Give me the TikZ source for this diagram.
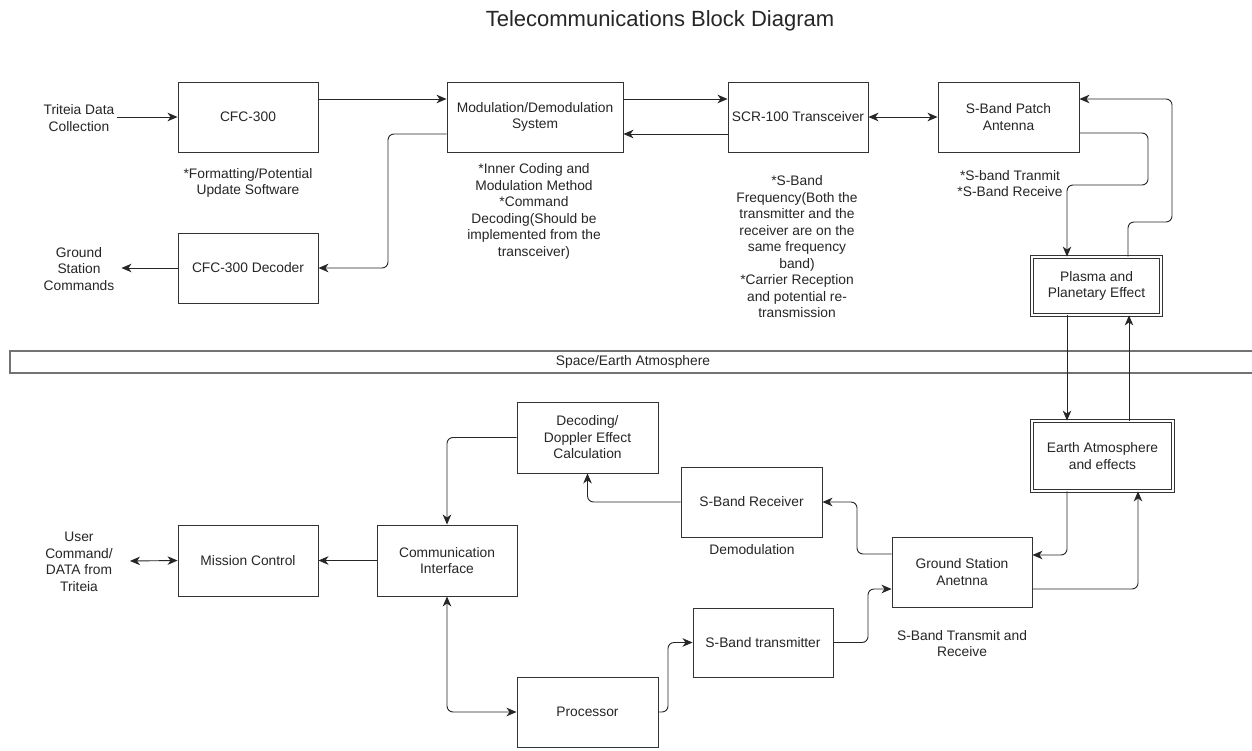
\documentclass[tikz,border=0pt]{standalone}
\usepackage{fontspec}
\setmainfont{Liberation Sans}
\usetikzlibrary{arrows.meta,calc}
\begin{document}
\begin{tikzpicture}[x=1pt,y=-1pt,
  every node/.style={font=\fontsize{13.8}{16.5}\selectfont, align=center, inner sep=2pt, text=black!85},
  blk/.style={draw=black!80, line width=0.9pt, inner sep=0pt},
  dblk/.style={draw=black!80, line width=0.8pt, double=white, double distance=2pt, inner sep=0pt},
  tip/.tip={Stealth[length=10pt,width=8.5pt,inset=3pt]},
  arr/.style={-tip, line width=0.9pt, draw=black!85, rounded corners=6pt},
  darr/.style={tip-tip, line width=0.9pt, draw=black!85, rounded corners=6pt}
]
\fill[white] (0,0) rectangle (1252,751);
\useasboundingbox (0,0) rectangle (1252,751);

% title
\node[font=\fontsize{22}{26}\selectfont, anchor=base] (title) at (660,27) {Telecommunications Block Diagram};

% top row blocks
\node[blk, minimum width=140pt, minimum height=70pt] (cfc) at (248,117) {CFC-300};
\node[blk, minimum width=176pt, minimum height=70pt] (mod) at (535,117) {Modulation/Demodulation\\System};
\node[blk, minimum width=140pt, minimum height=70pt] (scr) at (798,117) {SCR-100 Transceiver};
\node[blk, minimum width=141pt, minimum height=70pt] (patch) at (1008.5,117) {S-Band Patch\\Antenna};
\node[blk, minimum width=140pt, minimum height=70pt] (dec) at (248,268) {CFC-300 Decoder};
\node[dblk, minimum width=129pt, minimum height=58pt] (plasma) at (1096.5,286) {Plasma and\\Planetary Effect};

% top texts
\node (tdc) at (79,118) {Triteia Data\\Collection};
\node (gsc) at (79,269) {Ground\\Station\\Commands};
\node (fmt) at (248,183) {*Formatting/Potential\\Update Software};
\node (modnote) at (534,211.5) {*Inner Coding and\\Modulation Method\\*Command\\Decoding(Should be\\implemented from the\\transceiver)};
\node (scrnote) at (797,247) {*S-Band\\Frequency(Both the\\transmitter and the\\receiver are on the\\same frequency\\band)\\*Carrier Reception\\and potential re-\\transmission};
\node (patchnote) at (1010,183.5) {*S-band Tranmit\\*S-Band Receive};

% band
\node[draw=black!55, line width=1.3pt, minimum width=1246pt, minimum height=22pt, inner sep=0pt] (band) at (633,362) {Space/Earth Atmosphere};

% bottom blocks
\node[dblk, minimum width=141pt, minimum height=70pt] (earth) at (1102.5,456) {Earth Atmosphere\\and effects};
\node[blk, minimum width=141pt, minimum height=71pt] (decoding) at (587.5,437.5) {Decoding/\\Doppler Effect\\Calculation};
\node[blk, minimum width=141pt, minimum height=70pt] (rx) at (751.5,502) {S-Band Receiver};
\node[blk, minimum width=140pt, minimum height=70pt] (gs) at (962,572) {Ground Station\\Anetnna};
\node[blk, minimum width=140pt, minimum height=71pt] (comm) at (447,560.5) {Communication\\Interface};
\node[blk, minimum width=140pt, minimum height=71pt] (mission) at (248,560.5) {Mission Control};
\node[blk, minimum width=140pt, minimum height=69pt] (tx) at (763,642.5) {S-Band transmitter};
\node[blk, minimum width=141pt, minimum height=70pt] (proc) at (587.5,712) {Processor};

% bottom texts
\node (user) at (79,562) {User\\Command/\\DATA from\\Triteia};
\node (demod) at (752,550) {Demodulation};
\node (gsnote) at (962,643.5) {S-Band Transmit and\\Receive};
\coordinate (userend) at (130,561);

% top connectors
\draw[arr] (tdc.east |- cfc.west) -- (cfc.west);
\draw[arr] (cfc.east |- 0,99) -- (mod.west |- 0,99);
\draw[arr] (mod.west |- 0,134) -| (388,268) -- (dec.east);
\draw[arr] (dec.west) -- ($(gsc.east |- dec.west)+(5,0)$);
\draw[arr] (mod.east |- 0,99) -- (scr.west |- 0,99);
\draw[arr] (scr.west |- 0,134) -- (mod.east |- 0,134);
\draw[darr] (scr.east) -- (patch.west);
\draw[arr] (patch.east |- 0,133) -| (1148,185) -| (plasma.north -| 1067,0);
\draw[arr] (plasma.north -| 1128,0) |- (1172,222) |- (patch.east |- 0,99);

% through band
\draw[arr] (plasma.south -| 1067,0) -- (earth.north -| 1067,0);
\draw[arr] (earth.north -| 1129,0) -- (plasma.south -| 1129,0);

% bottom connectors
\draw[arr] (earth.south -| 1067,0) |- (gs.east |- 0,555);
\draw[arr] (gs.east |- 0,589) -| (earth.south -| 1138,0);
\draw[arr] (gs.west |- 0,554) -| (857,502) -- (rx.east);
\draw[arr] (rx.west) -| (decoding.south);
\draw[arr] (decoding.west) -| (comm.north);
\draw[arr] (comm.west) -- (mission.east);
\draw[darr] (mission.west) -- (userend);
\draw[darr] (comm.south) |- (proc.west);
\draw[arr] (proc.east) -| (668,642.5) -- (tx.west);
\draw[arr] (tx.east) -| (868,589) -- (gs.west |- 0,589);
\end{tikzpicture}
\end{document}
